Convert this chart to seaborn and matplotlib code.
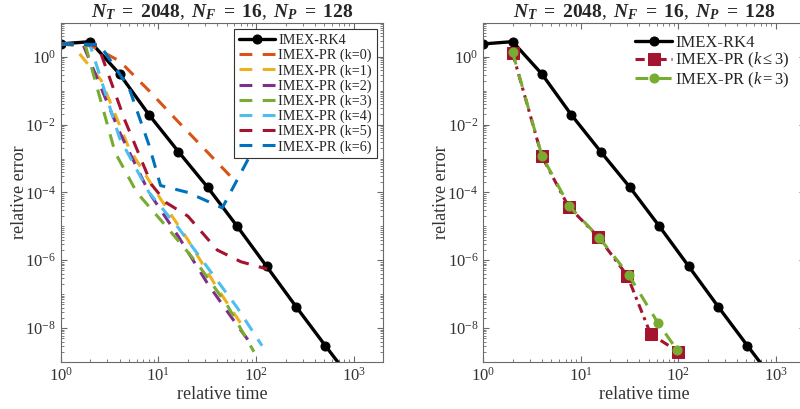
import numpy as np
import pandas as pd
import seaborn as sns
import matplotlib
matplotlib.use("Agg")
import matplotlib.pyplot as plt
from matplotlib.ticker import LogLocator, NullFormatter

# IMEX-RK4 reference curve
rk4_time = [1, 2, 4, 8, 16, 32, 64, 128, 256, 512, 1024]
rk4_err = [2.4, 2.8, 0.31, 0.0195, 1.6e-3, 1.4e-4, 1.0e-5, 6.6e-7, 4.3e-8, 3.0e-9, 2.2e-10]

# IMEX-PR, one curve per k (left panel)
pr_labels = ["IMEX-PR (k=0)", "IMEX-PR (k=1)", "IMEX-PR (k=2)", "IMEX-PR (k=3)",
             "IMEX-PR (k=4)", "IMEX-PR (k=5)", "IMEX-PR (k=6)"]
pr_colors = ["#D95319", "#EDB120", "#7E2F8E", "#77AC30", "#4DBEEE", "#A2142F", "#0072BD"]
pr_time = [
    [1, 2, 4, 8, 16, 32, 58],
    [1, 1.3, 2.6, 5, 10, 20, 40, 75],
    [1, 1.7, 4, 8, 16, 32, 64, 88],
    [1, 1.8, 3.6, 6, 12, 25, 50, 95],
    [1, 2, 4, 8, 16, 32, 64, 115],
    [1, 2.4, 4.5, 8.5, 12, 20, 40, 70, 130],
    [1, 2.5, 5, 8, 10.5, 20, 45, 90],
]
pr_err = [
    [2.4, 2.2, 0.75, 0.1, 0.012, 1.5e-3, 2.5e-4],
    [2.4, 2.3, 0.2, 2e-3, 8e-5, 4e-6, 1.5e-7, 1e-8],
    [2.4, 2.2, 6e-3, 1e-4, 5e-6, 2e-7, 1.2e-8, 3.5e-9],
    [2.4, 2.0, 1.5e-3, 1e-4, 1e-5, 8e-7, 5e-8, 2e-9],
    [2.4, 2.2, 4e-3, 1e-4, 9e-6, 6e-7, 4e-8, 3e-9],
    [2.4, 2.2, 0.014, 1.7e-4, 5e-5, 2e-5, 2e-6, 9e-7, 5.5e-7],
    [2.4, 2.3, 0.12, 2.5e-3, 1.6e-4, 1e-4, 3.5e-5, 1.5e-3],
]

# right panel
prle3_time = [2, 4, 7.5, 15, 30, 52, 100]
prle3_err = [1.3, 1.15e-3, 3.8e-5, 5e-6, 3.5e-7, 6.7e-9, 2e-9]
pr3_time = [2, 4, 7.6, 15.5, 31, 62, 98]
pr3_err = [1.37, 1.2e-3, 4e-5, 4.6e-6, 3.7e-7, 1.4e-8, 2.2e-9]

sns.set_style("ticks")
plt.rcParams["font.family"] = ["Liberation Serif", "DejaVu Serif"]
plt.rcParams["mathtext.fontset"] = "custom"
plt.rcParams["mathtext.rm"] = "Liberation Serif"
plt.rcParams["mathtext.it"] = "Liberation Serif:italic"
plt.rcParams["mathtext.bf"] = "Liberation Serif:bold"
plt.rcParams["mathtext.bfit"] = "Liberation Serif:bold:italic"

GRAY = "#6a6a6a"
DASH = (0, (4.2, 3.4))

fig = plt.figure(figsize=(8, 4.09), dpi=100)
ax1 = fig.add_axes([0.076, 0.115, 0.403, 0.829])
ax2 = fig.add_axes([0.604, 0.115, 0.4025, 0.829])

title = (r"$\mathbfit{N}_{\mathbfit{T}}\ \mathbf{=}\ \mathbf{2048},\ "
         r"\mathbfit{N}_{\mathbfit{F}}\ \mathbf{=}\ \mathbf{16},\ "
         r"\mathbfit{N}_{\mathbfit{P}}\ \mathbf{=}\ \mathbf{128}$")

# left panel
sns.lineplot(x=rk4_time, y=rk4_err, ax=ax1, color="black", lw=2.4, marker="o",
             markersize=6.5, markeredgecolor="black", sort=False, label="IMEX-RK4")
for t, e, lab, c in zip(pr_time, pr_err, pr_labels, pr_colors):
    sns.lineplot(x=t, y=e, ax=ax1, color=c, lw=2.2, linestyle=DASH,
                 sort=False, label=lab)

# right panel
sns.lineplot(x=rk4_time, y=rk4_err, ax=ax2, color="black", lw=2.4, marker="o",
             markersize=6.5, markeredgecolor="black", sort=False, label="IMEX-RK4")
sns.lineplot(x=prle3_time, y=prle3_err, ax=ax2, color="#A2142F", lw=2.2,
             linestyle=(0, (3.0, 1.6, 1.0, 1.6)), marker="s", markersize=8.5,
             markeredgecolor="#A2142F", sort=False, label=r"IMEX-PR ($k \leq 3$)")
sns.lineplot(x=pr3_time, y=pr3_err, ax=ax2, color="#77AC30", lw=2.2,
             linestyle=DASH, marker="o", markersize=6.5, markeredgecolor="#77AC30",
             sort=False, label=r"IMEX-PR ($k = 3$)")

for ax in (ax1, ax2):
    ax.set_xscale("log")
    ax.set_yscale("log")
    ax.set_xlim(1, 2000)
    ax.set_ylim(1e-9, 10)
    ax.xaxis.set_major_locator(LogLocator(base=10, numticks=10))
    ax.xaxis.set_minor_locator(LogLocator(base=10, subs=np.arange(2, 10), numticks=10))
    ax.xaxis.set_minor_formatter(NullFormatter())
    ax.set_yticks([1e-8, 1e-6, 1e-4, 1e-2, 1])
    ax.yaxis.set_minor_locator(LogLocator(base=10, subs=np.arange(1, 10), numticks=20))
    ax.yaxis.set_minor_formatter(NullFormatter())
    ax.tick_params(which="both", direction="in", top=True, right=True,
                   colors=GRAY, labelcolor="#333333", labelsize=12)
    ax.tick_params(which="major", length=4)
    ax.tick_params(which="minor", length=2)
    for s in ax.spines.values():
        s.set_color(GRAY)
        s.set_linewidth(0.8)
    ax.set_xlabel("relative time", fontsize=13, color="#333333", labelpad=1)
    ax.set_ylabel("relative error", fontsize=13, color="#333333", labelpad=-2)
    ax.set_title(title, fontsize=14, pad=4)

leg1 = ax1.legend(loc="upper right", fontsize=10.2, frameon=True, fancybox=False,
                  handlelength=2.6, handletextpad=0.2, labelspacing=0.12,
                  borderpad=0.35, borderaxespad=0.45)
leg1.get_frame().set_edgecolor("#333333")
leg1.get_frame().set_linewidth(0.8)
leg1.get_frame().set_alpha(1)

ax2.legend(loc="upper right", bbox_to_anchor=(1.0, 1.008), fontsize=12, frameon=False,
           handlelength=2.2, handletextpad=0.2, labelspacing=0.0)

fig.savefig("out.png", dpi=100)
